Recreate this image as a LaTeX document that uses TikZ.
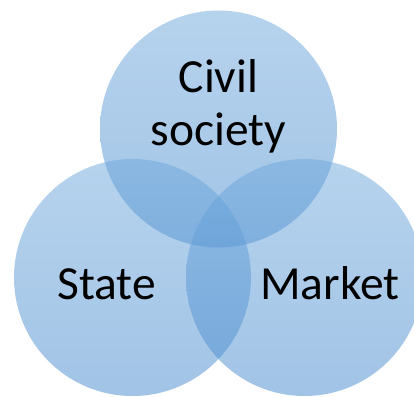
\documentclass[tikz,border=0pt]{standalone}
\usepackage{fontspec}
\setmainfont{Carlito}
\begin{document}
\begin{tikzpicture}[x=1pt,y=1pt,
  venn/.style={top color={rgb,255:red,110;green,168;blue,220}, bottom color={rgb,255:red,68;green,136;blue,205}, fill opacity=0.5},
  lbl/.style={font=\fontsize{47.5}{53}\selectfont, text=black, inner sep=0pt, anchor=base, align=center}]
\useasboundingbox (0,0) rectangle (414,396);
\clip (0,0) rectangle (414,396);
\shade[venn] (218.5,267) circle (118.5);
\shade[venn] (132.5,118.5) circle (118.5);
\shade[venn] (304.5,118.5) circle (118.5);
\node[lbl] (civil) at (218.5,303) {Civil};
\node[lbl] (society) at (218.5,250) {society};
\node[lbl] (state) at (106.5,97) {State};
\node[lbl] (market) at (330,97) {Market};
\end{tikzpicture}
\end{document}
